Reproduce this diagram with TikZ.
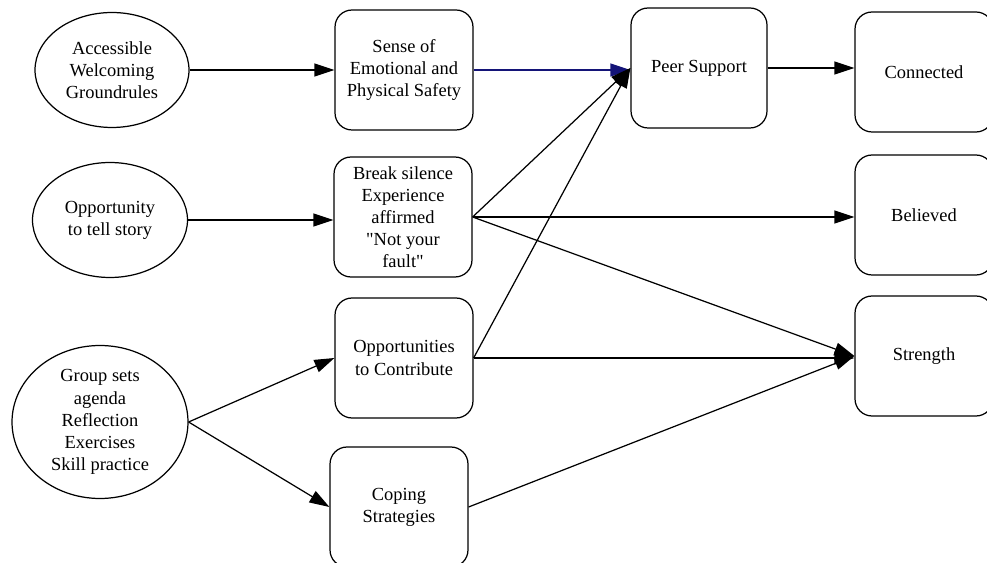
\documentclass[tikz,border=0pt]{standalone}
\usepackage{fontspec}
\setmainfont{Liberation Serif}[Ligatures=TeXOff]
\usetikzlibrary{shapes.geometric,arrows.meta}

\definecolor{navyline}{RGB}{20,20,120}

\tikzset{
  oval/.style={draw, ellipse, line width=0.7pt, inner sep=0pt, align=center},
  stage/.style={draw, rounded corners=0.34cm, line width=0.7pt, align=center,
                minimum width=2.76cm, minimum height=2.4cm},
  link/.style={line width=0.7pt, -{Triangle[length=0.4cm,width=0.26cm]}}
}

\begin{document}
\begin{tikzpicture}[x=0.02cm,y=-0.02cm, font=\fontsize{10.5}{12.6}\selectfont]
\useasboundingbox (0,0) rectangle (987,563);

% what the group offers
\node [oval, minimum width=3.08cm, minimum height=2.3cm] (groundrules) at (112,70) {Accessible\\Welcoming\\Groundrules};
\node [oval, minimum width=3.1cm, minimum height=2.3cm] (story) at (110,220) {Opportunity\\to tell story};
\node [oval, minimum width=3.52cm, minimum height=3.06cm] (agenda) at (100,422) {Group sets\\agenda\\Reflection\\Exercises\\Skill practice};

% middle column
\node [stage] (safety) at (404,70) {Sense of\\Emotional and\\Physical Safety};
\node [stage] (silence) at (403,217) {Break silence\\Experience\\affirmed\\"Not your\\fault"};
\node [stage] (contribute) at (404,358) {Opportunities\\to Contribute};
\node [stage] (coping) at (399,507) {Coping\\Strategies};

\node [stage, minimum width=2.72cm] (peer) at (699,68) {Peer Support};

% outcomes
\node [stage] (connected) at (924,72) {Connected};
\node [stage] (believed) at (924,215) {Believed};
\node [stage] (strength) at (924,356) {Strength};

% arrows
\draw [link] (groundrules.east) -- (safety.west);
\draw [link, navyline] (safety.east) -- (peer.west |- safety.east);
\draw [link] (peer.east) -- (connected.west |- peer.east);
\draw [link] (story.east) -- (silence.west |- story.east);

\draw [link] (silence.east) -- (peer.west);
\draw [link] (silence.east) -- (believed.west |- silence.east);
\draw [link] (silence.east) -- (strength.west);

\draw [link] (contribute.east) -- (peer.west);
\draw [link] (contribute.east) -- (strength.west |- contribute.east);
\draw [link] (coping.east) -- (strength.west);

\draw [link] (agenda.east) -- (contribute.west);
\draw [link] (agenda.east) -- (coping.west);

\end{tikzpicture}
\end{document}
